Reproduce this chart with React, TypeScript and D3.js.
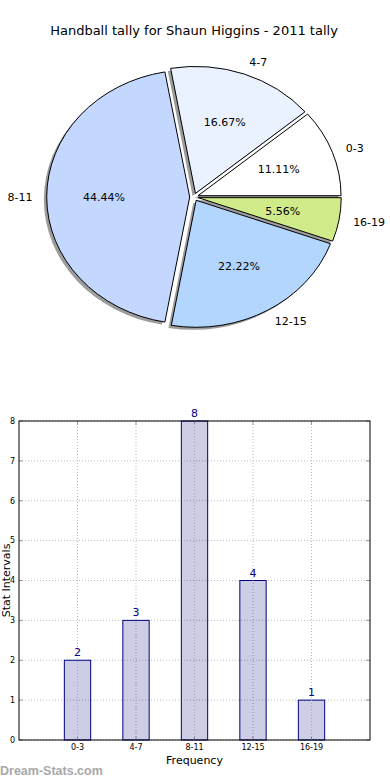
import React from "react";
import * as d3 from "d3";

const categories = ["0-3", "4-7", "8-11", "12-15", "16-19"];
const counts = [2, 3, 8, 4, 1];
const pieColors = ["#ffffff", "#eaf2ff", "#c4d8ff", "#b3d6ff", "#d0ec8a"];
const yTicks = [0, 1, 2, 3, 4, 5, 6, 7, 8];

const W = 390;
const H = 780;
const font = "DejaVu Sans, sans-serif";

// pie geometry (matplotlib pie without equal aspect -> ellipse)
const cx = 194;
const cy = 197;
const rx = 143;
const ry = 127;
const explode = 0.03;

const App = () => {
  const total = d3.sum(counts);
  const pie = d3
    .pie<number>()
    .sort(null)
    .startAngle(Math.PI / 2)
    .endAngle(Math.PI / 2 - 2 * Math.PI);
  const arcs = pie(counts);
  const arc = d3.arc<d3.PieArcDatum<number>>().innerRadius(0).outerRadius(rx);

  const offsetOf = (d: d3.PieArcDatum<number>, k: number) => {
    const mid = (d.startAngle + d.endAngle) / 2;
    return [cx + k * rx * Math.sin(mid), cy - k * ry * Math.cos(mid)];
  };

  // bar chart
  const x = d3.scaleLinear().domain([0, 6]).range([19, 370]);
  const y = d3.scaleLinear().domain([0, 8]).range([740, 421]);
  const barW = 0.45;

  return (
    <svg width={W} height={H} style={{ position: "absolute", left: 0, top: 0, background: "#fff" }} fontFamily={font}>
      <text x={194} y={35} textAnchor="middle" fontSize={13} fill="#000">
        Handball tally for Shaun Higgins - 2011 tally
      </text>

      {/* shadows */}
      {arcs.map((d, i) => {
        const [ox, oy] = offsetOf(d, explode);
        return (
          <g key={"s" + i} transform={`translate(${ox - 0.02 * rx},${oy + 0.02 * ry}) scale(1,${ry / rx})`}>
            <path d={arc(d) || ""} fill="#3a3a3a" fillOpacity={0.5} />
          </g>
        );
      })}
      {/* wedges */}
      {arcs.map((d, i) => {
        const [ox, oy] = offsetOf(d, explode);
        return (
          <g key={"w" + i} transform={`translate(${ox},${oy}) scale(1,${ry / rx})`}>
            <path d={arc(d) || ""} fill={pieColors[i]} stroke="#000" strokeWidth={1} vectorEffect="non-scaling-stroke" strokeLinejoin="round" />
          </g>
        );
      })}
      {/* labels */}
      {arcs.map((d, i) => {
        const [ox, oy] = offsetOf(d, explode);
        const mid = (d.startAngle + d.endAngle) / 2;
        const lx = ox + 1.1 * rx * Math.sin(mid);
        const ly = oy - 1.1 * ry * Math.cos(mid);
        const px = ox + 0.6 * rx * Math.sin(mid);
        const py = oy - 0.6 * ry * Math.cos(mid);
        return (
          <g key={"l" + i} fontSize={11} fill="#000">
            <text x={lx} y={ly} dy="0.35em" textAnchor={Math.sin(mid) > 0 ? "start" : "end"}>
              {categories[i]}
            </text>
            <text x={px} y={py} dy="0.35em" textAnchor="middle">
              {((counts[i] / total) * 100).toFixed(2) + "%"}
            </text>
          </g>
        );
      })}

      {/* bar chart grid */}
      {yTicks.map((t) => (
        <g key={"gy" + t}>
          <line x1={x(0)} x2={x(6)} y1={y(t)} y2={y(t)} stroke="#bbb" strokeDasharray="1,2" />
          <line x1={x(0)} x2={x(0) + 4} y1={y(t)} y2={y(t)} stroke="#999" />
          <line x1={x(6) - 4} x2={x(6)} y1={y(t)} y2={y(t)} stroke="#999" />
          <text x={15} y={y(t)} dy="0.35em" textAnchor="end" fontSize={8} fill="#000">
            {t}
          </text>
        </g>
      ))}
      {categories.map((c, i) => (
        <g key={"gx" + c}>
          <line x1={x(i + 1)} x2={x(i + 1)} y1={y(0)} y2={y(8)} stroke="#bbb" strokeDasharray="1,2" />
          <line x1={x(i + 1)} x2={x(i + 1)} y1={y(0)} y2={y(0) - 4} stroke="#999" />
          <line x1={x(i + 1)} x2={x(i + 1)} y1={y(8)} y2={y(8) + 4} stroke="#999" />
          <text x={x(i + 1)} y={750} textAnchor="middle" fontSize={8} fill="#000">
            {c}
          </text>
        </g>
      ))}

      {/* bars */}
      {counts.map((v, i) => (
        <g key={"b" + i}>
          <rect
            x={x(i + 1 - barW / 2)}
            y={y(v)}
            width={x(barW) - x(0)}
            height={y(0) - y(v)}
            fill="#1c1c8c"
            fillOpacity={0.22}
            stroke="#000080"
            strokeWidth={1}
          />
          <line x1={x(i + 1)} x2={x(i + 1)} y1={y(0)} y2={y(v)} stroke="#aaa" strokeDasharray="1,2" />
          <text x={x(i + 1)} y={y(v) - 4} textAnchor="middle" fontSize={11} fill="#000080">
            {v}
          </text>
        </g>
      ))}

      <rect x={x(0)} y={y(8)} width={x(6) - x(0)} height={y(0) - y(8)} fill="none" stroke="#000" strokeWidth={1} />

      <text x={194.5} y={764} textAnchor="middle" fontSize={11} fill="#000">
        Frequency
      </text>
      <text transform={`translate(10,${(y(0) + y(8)) / 2}) rotate(-90)`} textAnchor="middle" fontSize={11} fill="#000">
        Stat Intervals
      </text>

      <text x={0} y={775} fontSize={12.5} fontWeight="bold" fill="#a8a8a8" fontFamily="Liberation Sans, Arial, sans-serif">
        Dream-Stats.com
      </text>
    </svg>
  );
};

export default App;
